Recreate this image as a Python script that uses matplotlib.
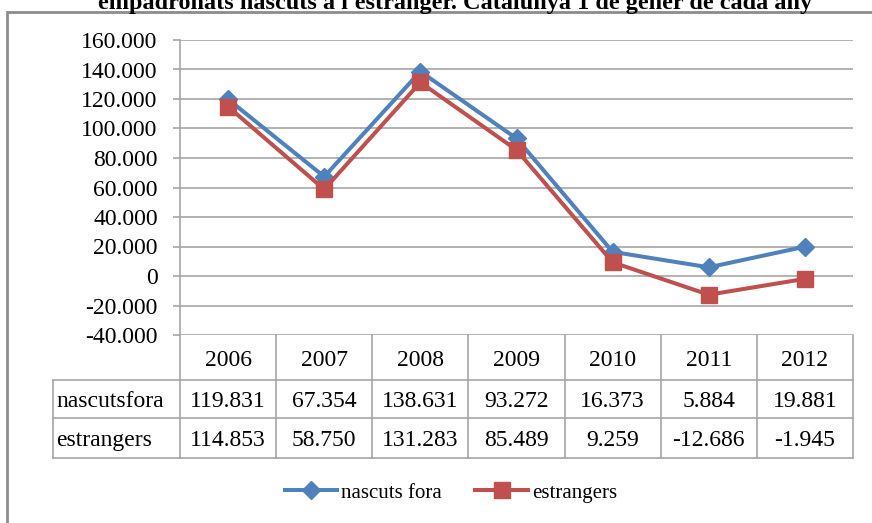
import numpy as np
import matplotlib
matplotlib.use("Agg")
from matplotlib import pyplot as plt
from matplotlib.lines import Line2D
from matplotlib.patches import Rectangle
from matplotlib import transforms

anys = ["2006", "2007", "2008", "2009", "2010", "2011", "2012"]
nascuts_fora = [119831, 67354, 138631, 93272, 16373, 5884, 19881]
estrangers = [114853, 58750, 131283, 85489, 9259, -12686, -1945]
series_noms = ["nascuts fora", "estrangers"]
row_labels = ["nascutsfora", "estrangers"]
yticks = [-40000, -20000, 0, 20000, 40000, 60000, 80000, 100000, 120000, 140000, 160000]
titol = "empadronats nascuts a l'estranger. Catalunya 1 de gener de cada any"

blau = "#4F81BD"
vermell = "#C0504D"
gris = "#A6A6A6"

def fmt(v):
    return f"{v:,}".replace(",", ".")

plt.rcParams['font.family'] = ['Liberation Serif', 'DejaVu Serif']

W, H = 872, 523
fs = 17
fig = plt.figure(figsize=(W / 100, H / 100), dpi=100)
ax = fig.add_axes([180 / W, (H - 335) / H, 673 / W, 295 / H])

x = np.arange(len(anys))
ax.plot(x, nascuts_fora, color=blau, lw=2.9, marker="D", ms=9.5, label=series_noms[0], zorder=3)
ax.plot(x, estrangers, color=vermell, lw=2.9, marker="s", ms=12, label=series_noms[1], zorder=4)

ax.set_xlim(-0.5, len(anys) - 0.5)
ax.set_ylim(yticks[0], yticks[-1])
ax.set_yticks(yticks)
ax.set_yticklabels([fmt(v) for v in yticks], fontsize=fs)
ax.set_xticks([])
ax.yaxis.grid(True, color=gris, lw=1.2)
ax.set_axisbelow(True)
for s in ["top", "right", "bottom"]:
    ax.spines[s].set_visible(False)
ax.spines["left"].set_color(gris)
ax.spines["left"].set_linewidth(1.2)
ax.tick_params(axis="y", length=5, color=gris, width=1.2, pad=11)

# taula de dades sota el grafic
tr = transforms.blended_transform_factory(ax.transData, ax.transAxes)
y_rows = [0, -0.153, -0.281, -0.417]
x_left = -1.82
x0, x1 = -0.5, len(anys) - 0.5

def linia(xs, ys):
    ax.add_line(Line2D(xs, ys, transform=tr, color=gris, lw=1.2, clip_on=False))

for yy in y_rows[1:]:
    linia([x_left, x1], [yy, yy])
for i in range(len(anys) + 1):
    linia([i - 0.5, i - 0.5], [y_rows[0], y_rows[-1]])
linia([x_left, x_left], [y_rows[1], y_rows[-1]])

for i, a in enumerate(anys):
    ax.text(i, (y_rows[0] + y_rows[1]) / 2 - 0.01, a, transform=tr, ha="center", va="center", fontsize=fs)
files = [nascuts_fora, estrangers]
for r, vals in enumerate(files):
    yc = (y_rows[r + 1] + y_rows[r + 2]) / 2 - 0.008
    ax.text(x_left + 0.03, yc, row_labels[r], transform=tr, ha="left", va="center", fontsize=fs)
    for i, v in enumerate(vals):
        ax.text(i, yc, fmt(v), transform=tr, ha="center", va="center", fontsize=fs)

# marc exterior
fig.add_artist(Rectangle((7 / W, -0.1), 2, (H - 12) / H + 0.1, transform=fig.transFigure,
                         fill=False, ec="#8C8C8C", lw=2))

fig.text(455 / W, 1 - 9 / H, titol, ha="center", va="baseline", fontsize=17.5, fontweight="bold")

fig.legend(loc="center", bbox_to_anchor=(451 / W, 1 - 493 / H), ncol=2, frameon=False,
           fontsize=15, handlelength=2.5, columnspacing=1.6, handletextpad=0.2)

fig.savefig("out.png", dpi=100)
